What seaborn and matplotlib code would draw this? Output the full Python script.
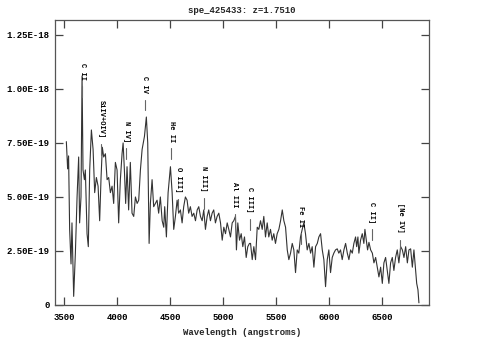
import matplotlib
matplotlib.use("Agg")
import matplotlib.pyplot as plt
import seaborn as sns
import numpy as np
import pandas as pd

title = "spe_425433: z=1.7510"
xlabel = "Wavelength (angstroms)"

wavelength = [3522, 3534, 3543, 3553, 3566, 3575, 3591, 3607, 3623, 3638, 3647, 3660, 3670, 3679, 3692,
              3701, 3717, 3729, 3742, 3758, 3774, 3789, 3805, 3821, 3836, 3849, 3861, 3874, 3890, 3906,
              3921, 3937, 3953, 3968, 3984, 4000, 4015, 4031, 4047, 4057, 4069, 4081, 4094, 4109, 4125,
              4141, 4157, 4173, 4189, 4204, 4220, 4236, 4258, 4276, 4289, 4302, 4314, 4330, 4345, 4361,
              4377, 4392, 4408, 4425, 4440, 4449, 4465, 4481, 4503, 4519, 4534, 4550, 4566, 4581, 4597,
              4613, 4628, 4644, 4660, 4675, 4691, 4707, 4723, 4739, 4755, 4770, 4786, 4802, 4817, 4833,
              4849, 4864, 4880, 4896, 4911, 4927, 4943, 4959, 4975, 4991, 5006, 5022, 5038, 5053, 5069,
              5085, 5100, 5116, 5125, 5138, 5154, 5170, 5185, 5201, 5217, 5232, 5248, 5258, 5274, 5289,
              5305, 5321, 5336, 5352, 5368, 5383, 5399, 5415, 5430, 5446, 5462, 5477, 5493, 5509, 5525,
              5541, 5557, 5572, 5588, 5604, 5619, 5635, 5651, 5666, 5682, 5698, 5713, 5729, 5745, 5760,
              5776, 5792, 5808, 5824, 5839, 5855, 5871, 5887, 5902, 5918, 5934, 5949, 5965, 5981, 5996,
              6012, 6028, 6043, 6059, 6075, 6090, 6106, 6122, 6138, 6154, 6170, 6185, 6201, 6217, 6232,
              6248, 6258, 6270, 6279, 6295, 6311, 6326, 6336, 6349, 6361, 6374, 6390, 6406, 6421, 6437,
              6453, 6468, 6484, 6500, 6515, 6531, 6547, 6562, 6578, 6594, 6609, 6625, 6641, 6656, 6673,
              6689, 6704, 6720, 6736, 6751, 6767, 6783, 6798, 6814, 6824, 6836, 6845]

# flux in units of 1e-19
flux_e19 = [7.56, 6.3, 6.9, 3.5, 1.9, 3.8, 0.4, 2.4, 5.0, 6.85, 3.8, 5.0, 10.6, 6.25, 5.8,
            6.25, 3.3, 2.7, 6.25, 8.1, 7.2, 5.2, 5.9, 5.5, 3.9, 5.9, 7.3, 6.85, 7.0, 5.8,
            5.9, 5.2, 5.5, 4.7, 6.6, 6.25, 3.8, 5.8, 7.0, 7.5, 6.25, 4.7, 6.4, 4.4, 6.6,
            4.25, 4.1, 5.0, 4.7, 4.85, 6.25, 7.2, 7.8, 8.7, 7.5, 2.85, 4.7, 5.8, 4.55, 4.7,
            4.85, 4.25, 5.0, 3.9, 3.6, 4.55, 3.15, 5.2, 6.4, 5.2, 3.5, 4.1, 4.85, 4.25, 4.4,
            3.8, 4.55, 5.0, 4.85, 4.25, 4.55, 4.1, 4.25, 3.9, 4.4, 4.55, 4.1, 3.9, 4.4, 3.5,
            4.1, 4.4, 3.9, 4.25, 4.4, 3.8, 4.1, 4.25, 3.8, 3.0, 3.6, 3.3, 3.8, 3.5, 3.15,
            3.8, 3.9, 4.1, 2.55, 3.8, 3.0, 3.3, 2.7, 3.15, 2.2, 2.7, 2.85, 2.85, 2.1, 2.7,
            2.1, 3.6, 3.5, 3.9, 3.5, 4.1, 3.15, 3.8, 3.15, 3.5, 3.0, 3.3, 2.85, 3.3, 3.5,
            3.9, 4.4, 3.9, 3.6, 2.55, 2.1, 2.4, 2.85, 2.55, 1.5, 2.55, 2.4, 3.15, 3.5, 3.8,
            3.3, 2.55, 2.85, 2.4, 2.7, 1.75, 2.7, 2.85, 3.15, 3.3, 2.55, 2.1, 0.85, 2.1, 2.55,
            1.5, 2.2, 2.4, 2.55, 2.6, 2.4, 2.55, 2.1, 2.55, 2.85, 2.4, 2.1, 2.55, 2.4, 2.85,
            3.15, 2.7, 3.15, 2.4, 3.0, 3.3, 2.85, 3.5, 3.0, 2.55, 2.9, 2.55, 2.4, 1.95, 2.2,
            1.75, 1.3, 1.75, 1.0, 1.95, 2.2, 1.6, 1.0, 1.95, 2.2, 1.6, 2.2, 2.55, 1.95, 2.7,
            2.55, 2.2, 2.7, 1.95, 2.55, 2.6, 1.75, 2.55, 1.6, 1.0, 0.7, 0.1]

line_names = ["C II", "SiIV+OIV]", "N IV]", "C IV", "He II", "O III]", "N III]",
              "Al III", "C III]", "Fe II", "C II]", "[Ne IV]"]
line_wavelength = [3672, 3851, 4088, 4261, 4512, 4575, 4815, 5109, 5251, 5730, 6399, 6669]
# base (bottom) of each label, units of 1e-19
line_label_base = [10.42, 7.73, 7.55, 9.81, 7.55, 5.19, 5.23, 4.49, 4.26, 3.61, 3.80, 3.33]

xticks = [3500, 4000, 4500, 5000, 5500, 6000, 6500]
yticks = [0, 2.5e-19, 5e-19, 7.5e-19, 1e-18, 1.25e-18]
ytick_labels = ["0", "2.50E-19", "5.00E-19", "7.50E-19", "1.00E-18", "1.25E-18"]

sns.set_theme(style="ticks")
plt.rcParams['font.family'] = ['Liberation Mono', 'DejaVu Sans Mono']
plt.rcParams['font.weight'] = 'bold'

df = pd.DataFrame({"wavelength": wavelength, "flux": np.array(flux_e19) * 1e-19})

fig = plt.figure(figsize=(4.83, 3.58), dpi=100)
ax = fig.add_axes([55 / 483, 1 - 305 / 358, (429 - 55) / 483, (305 - 20) / 358])
sns.lineplot(data=df, x="wavelength", y="flux", ax=ax, sort=False, estimator=None,
             color="#333333", linewidth=0.8)

ax.set_xlim(3415, 6940)
ax.set_ylim(0, 1.319e-18)
ax.set_xticks(xticks)
ax.set_xticklabels([str(t) for t in xticks])
ax.set_yticks(yticks)
ax.set_yticklabels(ytick_labels)
ax.tick_params(axis="both", which="major", direction="in", length=6, width=0.9,
               top=True, right=True, labelsize=6.5, colors="#444444", labelcolor="black")
ax.tick_params(axis="x", pad=6)
ax.tick_params(axis="y", pad=4)
for lab in ax.get_xticklabels() + ax.get_yticklabels():
    lab.set_fontweight("bold")
for s in ax.spines.values():
    s.set_color("#555555")
    s.set_linewidth(0.9)

ax.set_xlabel(xlabel, fontsize=6.5, fontweight="bold", labelpad=4)
ax.set_ylabel("")
ax.set_title(title, fontsize=6.5, fontweight="bold", pad=5)

for name, w, base in zip(line_names, line_wavelength, line_label_base):
    b = base * 1e-19
    ax.text(w, b, name, rotation=-90, ha="center", va="bottom", fontsize=5,
            fontweight="bold", color="black")
    ax.plot([w, w], [b - 0.03e-18, b - 0.08e-18], color="#666666", linewidth=0.8)

fig.savefig("out.png", dpi=100, facecolor="white")
